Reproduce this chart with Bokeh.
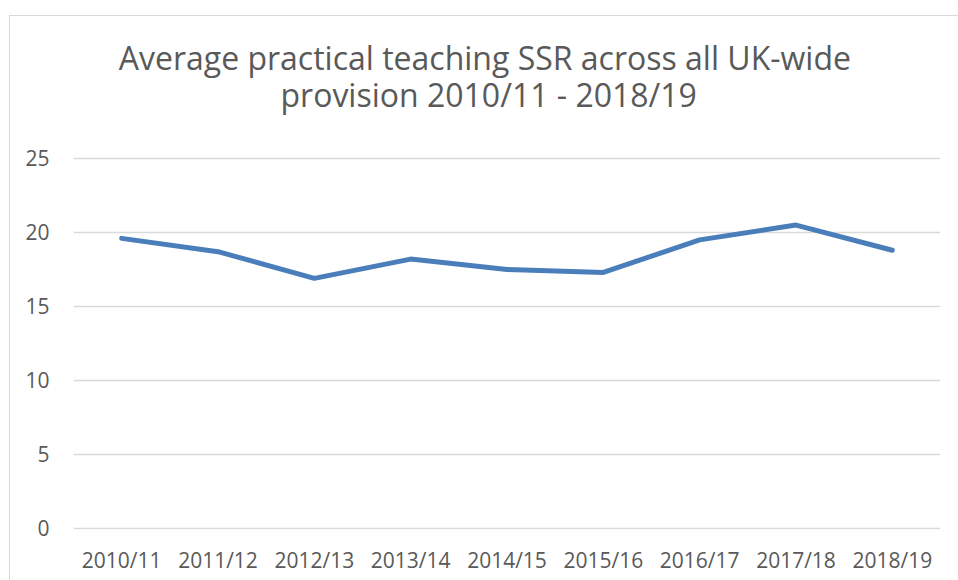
from bokeh.plotting import figure
from bokeh.models import FixedTicker, InlineStyleSheet, GlobalInlineStyleSheet, Label
from bokeh.embed import file_html
from bokeh.resources import INLINE

years = ["2010/11", "2011/12", "2012/13", "2013/14", "2014/15",
         "2015/16", "2016/17", "2017/18", "2018/19"]
ssr = [19.6, 18.7, 16.9, 18.2, 17.5, 17.3, 19.5, 20.5, 18.8]
y_ticks = [0, 5, 10, 15, 20, 25]
title_line1 = "Average practical teaching SSR across all UK-wide"
title_line2 = "provision 2010/11 - 2018/19"

GRAY = "#595959"
FONT = "Open Sans"

page_css = GlobalInlineStyleSheet(css="html, body { margin: 0 !important; padding: 0; overflow: hidden; }")
border_css = InlineStyleSheet(css="""
:host { position: relative; }
:host::after { content: ""; position: absolute; left: 9px; top: 15px; right: 0; bottom: 0;
  border-left: 1px solid #d9d9d9; border-top: 1px solid #d9d9d9; pointer-events: none; z-index: 10; }
""")

# The frame reaches up into the title area so the two title lines can be
# placed as labels; the value axis only ticks/grids 0-25.
p = figure(x_range=years, y_range=(-0.068, 34.32),
           frame_width=867, frame_height=509,
           output_backend="svg", toolbar_location=None,
           min_border_left=73, min_border_right=18,
           min_border_top=20, min_border_bottom=51,
           stylesheets=[page_css, border_css])
p.outline_line_color = None
p.background_fill_color = "white"
p.border_fill_color = "white"

p.add_layout(Label(x=4.27, y=31.84, text=title_line1, text_align="center",
                   text_baseline="alphabetic", text_font=FONT,
                   text_font_size="32px", text_color=GRAY))
p.add_layout(Label(x=4.31, y=29.30, text=title_line2, text_align="center",
                   text_baseline="alphabetic", text_font=FONT,
                   text_font_size="32px", text_color=GRAY))

p.line(x=years, y=ssr, line_color="#4a7ebb", line_width=5,
       line_join="round", line_cap="round")

p.yaxis.ticker = FixedTicker(ticks=y_ticks)
p.xgrid.grid_line_color = None
p.ygrid.grid_line_color = "#d9d9d9"
p.ygrid.grid_line_width = 1.5

for ax in (p.xaxis, p.yaxis):
    ax.axis_line_color = None
    ax.major_tick_line_color = None
    ax.minor_tick_line_color = None
    ax.major_tick_out = 0
    ax.major_tick_in = 0
    ax.major_label_text_font = FONT
    ax.major_label_text_font_size = "21px"
    ax.major_label_text_color = GRAY
p.xaxis.major_label_standoff = 16
p.yaxis.major_label_standoff = 24

open("out.html", "w").write(file_html(p, INLINE))
